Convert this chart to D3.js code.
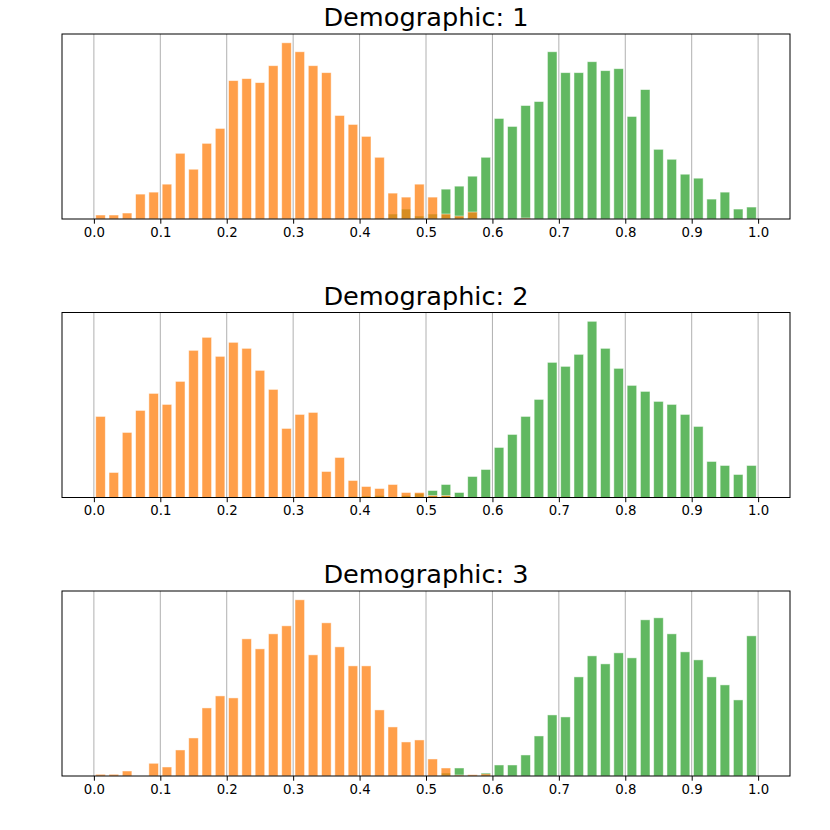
<!DOCTYPE html>
<html><head><meta charset="utf-8">
<script src="https://cdn.jsdelivr.net/npm/d3@7"></script>
<style>body{margin:0;background:#fff}svg{display:block}text{font-family:"DejaVu Sans",sans-serif}</style>
</head><body>
<script>
// 50 bins of width 0.02 from 0.0 to 1.0
const binEdges = d3.range(50).map(i => i * 0.02);
const tickLabels = ["0.0","0.1","0.2","0.3","0.4","0.5","0.6","0.7","0.8","0.9","1.0"];
const titles = ["Demographic: 1","Demographic: 2","Demographic: 3"];

const orange1 = [4,4,6,25,27,35,66,50,76,91,139,141,137,154,177,168,154,147,104,95,83,62,26,22,35,22,5,3,7,0,0,0,1,0,0,0,0,0,0,0,0,0,0,0,0,0,0,0,0,0];
const green1  = [0,0,0,0,0,0,0,0,0,0,0,0,0,0,0,0,0,0,0,1,1,1,5,10,3,5,30,33,43,62,101,93,114,118,168,147,147,158,149,151,103,130,70,60,45,41,20,27,10,12];
const orange2 = [81,25,65,87,104,93,116,147,160,141,155,149,127,108,69,83,85,26,40,17,11,9,13,5,5,2,2,0,0,0,0,0,0,0,0,0,0,0,0,0,0,0,0,0,0,0,0,0,0,0];
const green2  = [0,0,0,0,0,0,0,0,0,0,0,0,0,0,0,0,0,0,0,1,1.5,2,0,2,4,7,13,5,21,28,50,63,81,98,135,131,143,176,149,129,112,106,96,93,83,71,36,32,23,32];
const orange3 = [1.7,1.7,5,0,12.7,9,26,38,68,80,78,137,127,142,150,176,121,153,129,110,110,66,49,34,36,17,8,1,1.3,2,0,0,0,0,0,0,0,0,0,0,0,0,0,0,0,0,0,0,0,0];
const green3  = [0,0,0,0,0,0,0,0,0,0,0,0,0,0,0,0,0,0,0,0,0,0,0,0,0,0,3,8,0,3,11,11,21,40,61,59,99,120,112,123,118,156,158,142,124,116,99,91,76,140];

const panels = [
  {title: titles[0], orange: orange1, green: green1},
  {title: titles[1], orange: orange2, green: green2},
  {title: titles[2], orange: orange3, green: green3}
];

const W = 830, H = 830;
const left = 62, right = 790, axH = 185;
const tops = [34, 312.5, 591];
const binW = 0.02, rwidth = 0.72;

const svg = d3.select("body").append("svg").attr("width", W).attr("height", H);
const x = d3.scaleLinear().domain([-0.048, 1.048]).range([left, right]);
const tickVals = tickLabels.map(Number);

panels.forEach((p, k) => {
  const top = tops[k];
  const ymax = d3.max(p.orange.concat(p.green)) * 1.05;
  const y = d3.scaleLinear().domain([0, ymax]).range([top + axH, top]);
  const g = svg.append("g");

  // grid (vertical)
  g.selectAll("line.grid").data(tickVals).join("line")
    .attr("x1", d => x(d)).attr("x2", d => x(d))
    .attr("y1", top).attr("y2", top + axH)
    .attr("stroke", "#b0b0b0").attr("stroke-width", 1);

  const drawSeries = (vals, color) => {
    g.append("g").selectAll("rect").data(vals.map((v, i) => ({v, x0: binEdges[i]}))).join("rect")
      .filter(d => d.v > 0)
      .attr("x", d => x(d.x0 + binW * (1 - rwidth) / 2))
      .attr("width", d => x(d.x0 + binW * (1 + rwidth) / 2) - x(d.x0 + binW * (1 - rwidth) / 2))
      .attr("y", d => y(d.v))
      .attr("height", d => y(0) - y(d.v))
      .attr("fill", color).attr("fill-opacity", 0.75)
      .attr("stroke", "#ffffff").attr("stroke-opacity", 0.6).attr("stroke-width", 0.8);
  };
  drawSeries(p.green, "#2ca02c");
  drawSeries(p.orange, "#ff7f0e");

  // frame
  g.append("rect").attr("x", left).attr("y", top).attr("width", right - left).attr("height", axH)
    .attr("fill", "none").attr("stroke", "#000").attr("stroke-width", 1);

  // x axis
  const ax = g.append("g").attr("transform", `translate(0,${top + axH})`)
    .call(d3.axisBottom(x).tickValues(tickVals).tickFormat((d, i) => tickLabels[i]).tickSizeOuter(0).tickSize(4.7).tickPadding(3.5));
  ax.select(".domain").remove();
  ax.selectAll(".tick line").attr("stroke", "#000").attr("stroke-width", 1);
  ax.selectAll(".tick text").attr("font-size", 13.3).attr("fill", "#000")
    .attr("font-family", "DejaVu Sans");

  // title
  g.append("text").attr("x", (left + right) / 2).attr("y", top - 8)
    .attr("text-anchor", "middle").attr("font-size", 25.6).attr("fill", "#000")
    .text(p.title);
});
</script>
</body></html>
